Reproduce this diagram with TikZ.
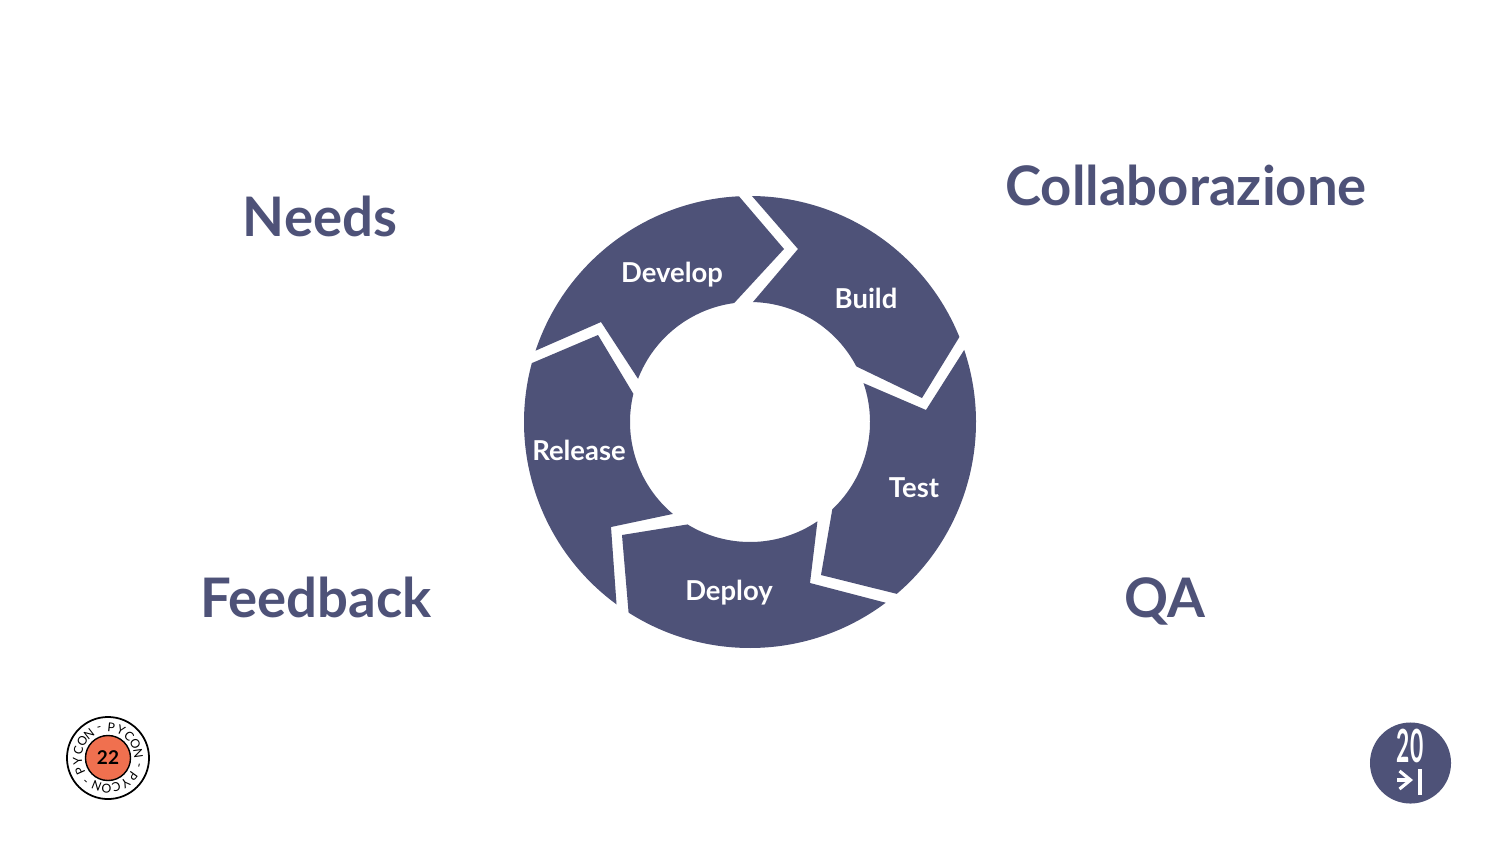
\documentclass[tikz,border=0pt]{standalone}
\usepackage{fontspec}
\setmainfont{Lato}
\usetikzlibrary{arrows.meta}
\definecolor{pyblue}{HTML}{4E5278}
\definecolor{pyorange}{HTML}{F0704F}
\tikzset{
    seg/.style={fill=pyblue},
    seglabel/.style={anchor=base, text=white, font=\fontsize{7.8}{9}\selectfont\bfseries},
    title/.style={anchor=base, text=pyblue, font=\fontsize{15.5}{18}\selectfont\bfseries},
    ringchar/.style={inner sep=0pt, font=\fontsize{3.5}{4}\selectfont}
}

\begin{document}
\begin{tikzpicture}[x=0.01cm, y=0.01cm]
    \useasboundingbox[fill=white] (0,0) rectangle (1500,844);

    % ring
    \begin{scope}[shift={(750,422)}]
        \fill[seg] (92.8:226) -- (34,173) -- (97.6:120) arc[start angle=97.6, end angle=158.9, radius=120] -- (-149,100) -- (161.6:226) arc[start angle=161.6, end angle=92.8, radius=226] -- cycle;
        \fill[seg] (89.5:226) -- (48,173) -- (88.6:120) arc[start angle=88.6, end angle=27.6, radius=120] -- (172,24) -- (22.1:226) arc[start angle=22.1, end angle=89.5, radius=226] -- cycle;
        \fill[seg] (18.6:226) -- (176,12) -- (18.9:120) arc[start angle=18.9, end angle=-46.7, radius=120] -- (71,-153) -- (-49.5:226) arc[start angle=-49.5, end angle=18.6, radius=226] -- cycle;
        \fill[seg] (-53.1:226) -- (60,-161) -- (-55.8:120) arc[start angle=-55.8, end angle=-121.4, radius=120] -- (-128,-113) -- (-122.5:226) arc[start angle=-122.5, end angle=-53.1, radius=226] -- cycle;
        \fill[seg] (-126.2:226) -- (-139,-105) -- (-130:120) arc[start angle=-130, end angle=-193.6, radius=120] -- (-152,87) -- (-195.1:226) arc[start angle=-195.1, end angle=-126.2, radius=226] -- cycle;
    \end{scope}

    \node[seglabel] (develop) at (672,562) {Develop};
    \node[seglabel] (build) at (866,536) {Build};
    \node[seglabel] (test) at (914,347) {Test};
    \node[seglabel] (deploy) at (729,244) {Deploy};
    \node[seglabel] (release) at (579,384) {Release};

    \node[title] (needs) at (320,608) {Needs};
    \node[title] (collab) at (1186,639) {Collaborazione};
    \node[title] (feedback) at (316,227) {Feedback};
    \node[title] (qa) at (1165,227) {QA};

    % badge left
    \node[circle, draw=black, line width=0.5pt, fill=white, minimum size=0.82cm, inner sep=0pt] (badge) at (108,86) {};
    \node[circle, draw=black, line width=0.4pt, fill=pyorange, minimum size=0.45cm, inner sep=0pt, font=\fontsize{5.4}{6}\selectfont\bfseries] (num) at (108,86) {22};
    \begin{scope}[shift={(108,86)}]
        \foreach \r in {0,1,2} {
            \foreach \ch [count=\i] in {P,Y,C,O,N,-} {
                \pgfmathsetmacro{\a}{204-120*\r-19*(\i-1)-(\i==6)*3}
                \node[ringchar, rotate=\a-90] (ch\r\i) at (\a:30.5) {\ch};
            }
        }
    \end{scope}

    % badge right
    \node[circle, fill=pyblue, minimum size=0.81cm, inner sep=0pt] (logo) at (1410.5,81) {};
    \node[text=white, anchor=base, inner sep=0pt] (twenty) at (1410,81.5) {\scalebox{0.5}[1]{\fontsize{13}{14}\selectfont\bfseries 20}};
    \coordinate (arrowa) at (1397,64);
    \coordinate (arrowb) at (1413,64);
    \coordinate (bara) at (1420,75);
    \coordinate (barb) at (1420,49);
    \draw[white, line width=0.9pt, -{Straight Barb[length=1.1mm, width=1.8mm]}] (arrowa) -- (arrowb);
    \draw[white, line width=0.9pt] (bara) -- (barb);
\end{tikzpicture}
\end{document}
